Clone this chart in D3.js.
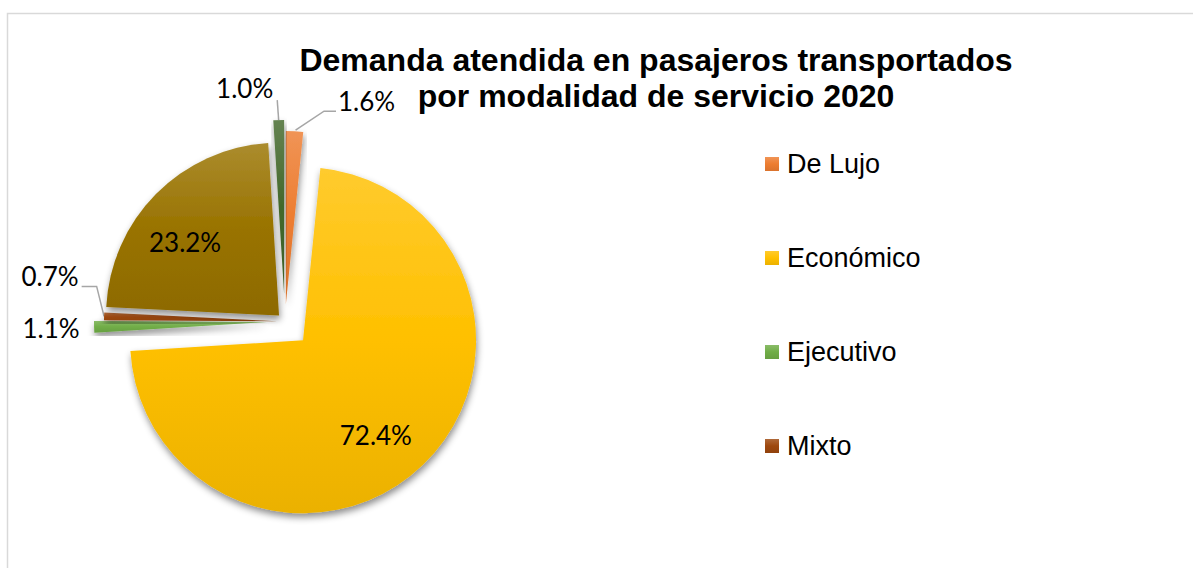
<!DOCTYPE html>
<html lang="es">
<head>
<meta charset="UTF-8">
<title>Demanda atendida en pasajeros transportados</title>
<script src="https://d3js.org/d3.v7.min.js"></script>
<style>
  body { margin: 0; background: #fff; }
  svg { display: block; }
</style>
</head>
<body>
<div id="chart"></div>
<script>
// datos
const categories = ["De Lujo", "Económico", "Ejecutivo", "Mixto", "Categoría 5", "Categoría 6"];
const values = [1.6, 72.4, 1.1, 0.7, 23.2, 1.0];
const colors = ["#ED7D31", "#FFC000", "#70AD47", "#9E480E", "#997300", "#43682B"];
const titleLines = ["Demanda atendida en pasajeros transportados", "por modalidad de servicio 2020"];

// estilo / disposición
const width = 1193, height = 568;
const cx = 285, cy = 321.5, radius = 173;
const explode = [17.5, 26, 18, 8, 8.4, 28.5];   // separación de cada porción
const legendCount = 4;                           // la leyenda se corta tras 4 entradas
// etiquetas: "in" = dentro de la porción, otras = fuera con offset desde el borde exterior
const labelStyle = [
  { mode: "out", dx: 72, dy: -30, leader: "elbowLeft" },
  { mode: "in", nudge: [-10, 9] },
  { mode: "out", dx: -43, dy: 1, leader: "none" },
  { mode: "out", dx: -54, dy: -40, leader: "elbowRight" },
  { mode: "in", nudge: [-9, 10] },
  { mode: "out", dx: -34, dy: -32, leader: "up" }
];

const svg = d3.select("#chart").append("svg")
  .attr("width", width).attr("height", height);

const defs = svg.append("defs");
const shadow = defs.append("filter").attr("id", "shadow")
  .attr("x", "-20%").attr("y", "-20%").attr("width", "140%").attr("height", "140%");
shadow.append("feDropShadow")
  .attr("dx", 1).attr("dy", 4).attr("stdDeviation", 3.5)
  .attr("flood-color", "#000").attr("flood-opacity", 0.45);

colors.forEach((c, i) => {
  const g = defs.append("linearGradient").attr("id", "grad" + i)
    .attr("x1", 0).attr("y1", 0).attr("x2", 0).attr("y2", 1);
  g.append("stop").attr("offset", "0%").attr("stop-color", d3.interpolateRgb(c, "#fff")(0.18));
  g.append("stop").attr("offset", "50%").attr("stop-color", c);
  g.append("stop").attr("offset", "100%").attr("stop-color", d3.interpolateRgb(c, "#000")(0.08));
});

// borde del área del gráfico
svg.append("rect")
  .attr("x", 7.5).attr("y", 13.5).attr("width", 1300).attr("height", 700)
  .attr("fill", "none").attr("stroke", "#D9D9D9").attr("stroke-width", 1.5);

// título
svg.append("text")
  .attr("x", 656).attr("y", 71)
  .attr("text-anchor", "middle")
  .style("font-family", "'Liberation Sans', Arial, sans-serif")
  .style("font-weight", "bold").style("font-size", "32px").attr("fill", "#000")
  .selectAll("tspan").data(titleLines).join("tspan")
  .attr("x", 656).attr("dy", (d, i) => i === 0 ? 0 : 36)
  .text(d => d);

const pie = d3.pie().sort(null).value(d => d.value).startAngle(0).endAngle(2 * Math.PI);
const data = categories.map((c, i) => ({ name: c, value: values[i], i }));
const arcs = pie(data);

const arc = d3.arc().innerRadius(0).outerRadius(radius);
const labelArc = d3.arc().innerRadius(radius * 0.69).outerRadius(radius * 0.69);

function offset(a) {
  const mid = (a.startAngle + a.endAngle) / 2;
  const d = explode[a.data.i];
  return [cx + Math.sin(mid) * d, cy - Math.cos(mid) * d];
}

const g = svg.append("g");
g.selectAll("path").data(arcs).join("path")
  .attr("transform", d => `translate(${offset(d)})`)
  .attr("d", arc)
  .attr("fill", d => `url(#grad${d.data.i})`)
  .attr("filter", "url(#shadow)");

// etiquetas de datos
const labelFont = "Lato, 'Open Sans', sans-serif";
const labels = svg.append("g")
  .style("font-family", labelFont).style("font-size", "26px").attr("fill", "#000");

arcs.forEach(a => {
  const st = labelStyle[a.data.i];
  const [ox, oy] = offset(a);
  const txt = d3.format(".1f")(a.data.value) + "%";
  if (st.mode === "in") {
    const [lx, ly] = labelArc.centroid(a);
    labels.append("text")
      .attr("x", ox + lx + st.nudge[0]).attr("y", oy + ly + st.nudge[1])
      .attr("text-anchor", "middle").attr("dominant-baseline", "central")
      .text(txt);
    return;
  }
  const mid = (a.startAngle + a.endAngle) / 2;
  const tipX = ox + Math.sin(mid) * radius;
  const tipY = oy - Math.cos(mid) * radius;
  const lx = tipX + st.dx, ly = tipY + st.dy;
  const t = labels.append("text")
    .attr("x", lx).attr("y", ly)
    .attr("text-anchor", "middle").attr("dominant-baseline", "central")
    .text(txt);
  const bb = t.node().getBBox();
  let pts = null;
  if (st.leader === "elbowLeft") {
    const y = bb.y + bb.height - 6;
    pts = [[bb.x - 2, y], [bb.x - 14, y], [tipX + 1, tipY - 1]];
  } else if (st.leader === "elbowRight") {
    const y = bb.y + bb.height - 6;
    pts = [[bb.x + bb.width + 3, y], [bb.x + bb.width + 18, y], [tipX, tipY]];
  } else if (st.leader === "up") {
    pts = [[bb.x + bb.width + 4, bb.y + bb.height - 4], [tipX, tipY]];
  }
  if (pts) {
    svg.insert("path", "g")
      .attr("d", d3.line()(pts))
      .attr("fill", "none").attr("stroke", "#A6A6A6").attr("stroke-width", 1.5);
  }
});

// leyenda
const legend = svg.append("g")
  .style("font-family", "'Liberation Sans', Arial, sans-serif")
  .style("font-size", "27px");
const ly = d3.scalePoint().domain(d3.range(legendCount)).range([164, 446]);
const items = legend.selectAll("g").data(data.slice(0, legendCount)).join("g")
  .attr("transform", d => `translate(765, ${ly(d.i)})`);
items.append("rect")
  .attr("x", 0).attr("y", -7).attr("width", 14).attr("height", 14)
  .attr("fill", d => `url(#grad${d.i})`);
items.append("text")
  .attr("x", 22).attr("y", 0).attr("dominant-baseline", "central")
  .attr("fill", "#000")
  .text(d => d.name);
</script>
</body>
</html>
